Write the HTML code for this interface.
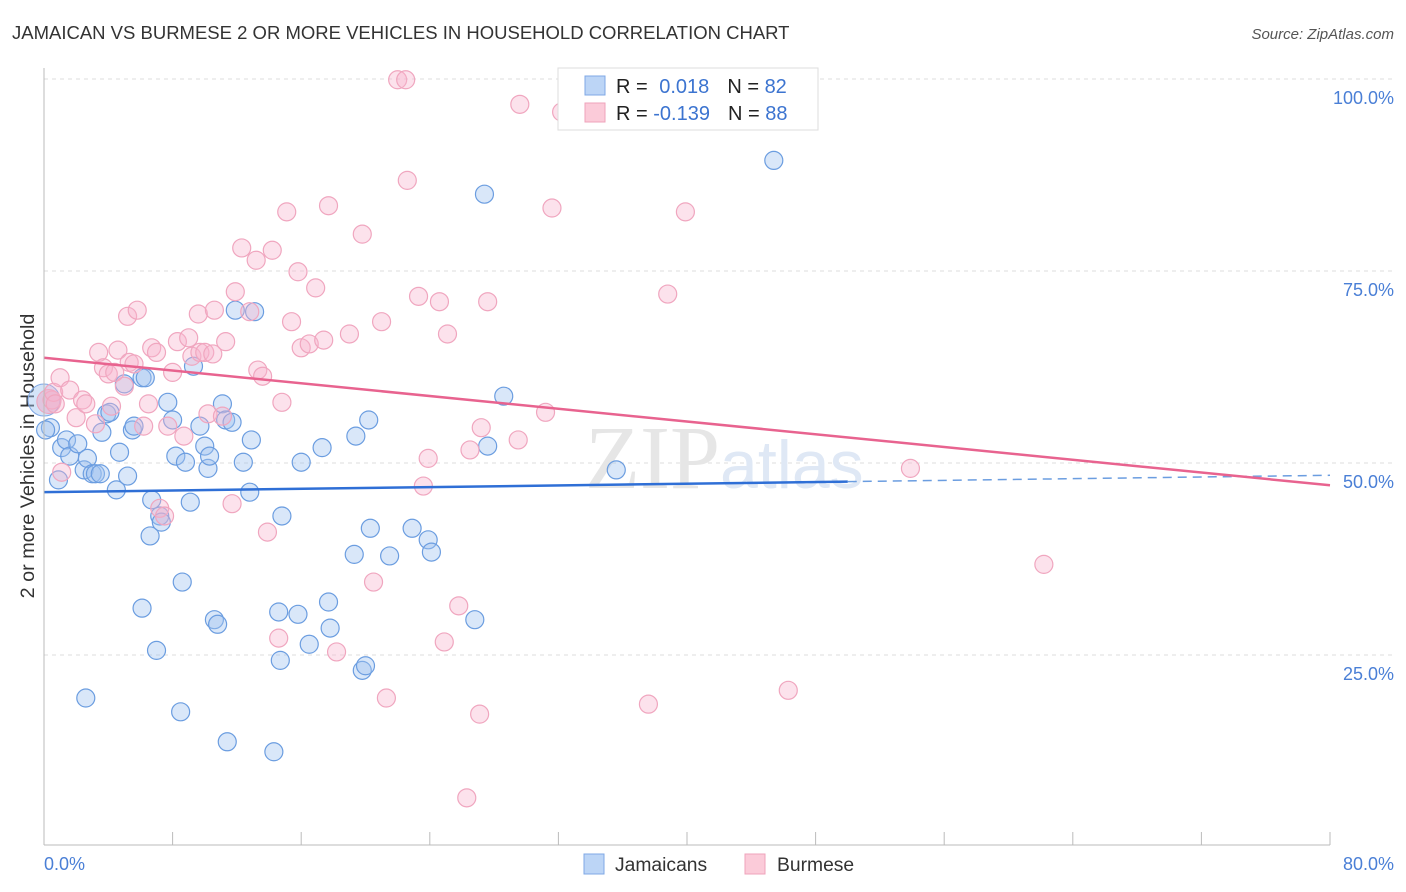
<!DOCTYPE html>
<html><head><meta charset="utf-8"><style>
body{margin:0;background:#fff;font-family:"Liberation Sans",sans-serif}
svg{display:block}
</style></head><body>
<svg width="1406" height="892" id="chart">
<text x="12" y="39" font-size="18.5" fill="#333">JAMAICAN VS BURMESE 2 OR MORE VEHICLES IN HOUSEHOLD CORRELATION CHART</text>
<text x="1394" y="39" font-size="15" fill="#555" font-style="italic" text-anchor="end">Source: ZipAtlas.com</text>
<text x="34" y="456" font-size="19.8" fill="#333" text-anchor="middle" transform="rotate(-90 34 456)">2 or more Vehicles in Household</text>
<g id="grid"></g>
<text x="720" y="488" font-size="90" fill="#e6e6e6" font-family="Liberation Serif,serif" text-anchor="end">ZIP</text>
<text x="720" y="488" font-size="68" fill="#dfe8f5">atlas</text>
<g id="points"></g>
<g id="lines"></g>
<line x1="44" y1="68" x2="44" y2="845" stroke="#bbb"/>
<line x1="44" y1="845" x2="1330" y2="845" stroke="#bbb"/>
<text x="44" y="870" font-size="18" fill="#4a7fd6">0.0%</text>
<text x="1394" y="870" font-size="18" fill="#4a7fd6" text-anchor="end">80.0%</text>
<g>
<rect x="584" y="854" width="20" height="20" fill="#bcd5f6" stroke="#7fa8e6"/>
<text x="615" y="871" font-size="19.3" fill="#333">Jamaicans</text>
<rect x="745" y="854" width="20" height="20" fill="#fbcbd9" stroke="#efa3bb"/>
<text x="777" y="871" font-size="19.3" fill="#333">Burmese</text>
</g>
<g>
<rect x="558" y="68" width="260" height="62" fill="#fff" stroke="#ddd"/>
<rect x="585" y="76" width="20" height="19" fill="#bcd5f6" stroke="#7fa8e6"/>
<rect x="585" y="103" width="20" height="19" fill="#fbcbd9" stroke="#efa3bb"/>
<text x="616" y="93" font-size="20" fill="#222">R = <tspan fill="#3c74d0" dx="6">0.018</tspan><tspan fill="#222" dx="18">N = </tspan><tspan fill="#3c74d0">82</tspan></text>
<text x="616" y="120" font-size="20" fill="#222">R = <tspan fill="#3c74d0">-0.139</tspan><tspan fill="#222" dx="18">N = </tspan><tspan fill="#3c74d0">88</tspan></text>
</g>
</svg>
<script>
const yTicks=[25,50,75,100];
const yTickLabels=["25.0%","50.0%","75.0%","100.0%"];
const xTicks=[0,8,16,24,32,40,48,56,64,72,80];
const blueX=[0.4,0.9,1.1,1.4,1.6,2.1,2.5,2.7,3.0,3.2,3.5,3.6,3.9,4.1,4.5,4.7,5.0,5.2,5.5,5.6,6.1,6.3,6.7,6.6,6.1,7.0,2.6,7.2,7.3,7.7,8.0,8.2,8.6,8.5,8.8,9.1,9.3,9.7,10.0,10.2,10.3,10.6,10.8,11.1,11.3,11.7,11.9,11.4,12.4,12.8,13.1,12.9,14.3,14.8,14.6,14.7,15.8,16.0,16.5,17.3,17.7,17.8,19.4,19.3,19.8,20.0,20.2,20.3,21.5,22.9,23.9,24.1,26.8,27.4,27.6,28.6,35.6,45.4,0.1];
const blueY=[54.6,47.8,52.0,53.0,50.9,52.5,49.1,50.6,48.6,48.6,48.6,54.0,56.4,56.6,46.5,51.4,60.3,48.3,54.3,54.8,61.1,61.1,45.2,40.5,31.1,25.6,19.4,43.1,42.3,57.9,55.6,50.9,34.5,17.6,50.1,44.9,62.6,54.8,52.2,49.3,50.9,29.6,29.0,57.7,55.6,55.3,69.9,13.7,50.1,46.2,69.7,53.0,12.4,43.1,30.6,24.3,30.3,50.1,26.4,52.0,31.9,28.5,53.5,38.1,23.0,23.6,55.6,41.5,37.9,41.5,40.0,38.4,29.6,85.0,52.2,58.7,49.1,89.4,54.3];
const pinkX=[0.5,0.6,0.7,1.0,1.1,1.6,2.0,2.4,2.6,3.2,3.4,3.7,4.0,4.2,4.4,4.6,5.0,5.2,5.3,5.6,5.8,6.2,6.5,6.7,7.0,7.2,7.5,7.7,8.0,8.3,8.7,9.0,9.2,9.6,9.7,10.0,10.2,10.5,10.6,11.1,11.3,11.7,11.9,12.3,12.8,13.2,13.3,13.6,13.9,14.2,14.6,14.8,15.1,15.4,15.8,16.0,16.5,16.9,17.4,17.7,18.2,19.0,19.8,20.5,21.0,21.3,22.0,22.5,22.6,23.3,23.6,23.9,24.6,24.9,25.1,25.8,26.3,26.5,27.1,27.2,27.6,29.5,29.6,31.2,31.6,32.2,37.6,38.8,39.9,46.3,53.9,62.2];
const pinkY=[58.2,59.2,57.7,61.1,48.8,59.5,55.9,58.2,57.7,55.1,64.4,62.4,61.6,57.4,61.8,64.7,60.0,69.1,63.1,62.9,69.9,54.8,57.7,65.0,64.4,44.1,43.1,54.8,61.8,65.8,53.5,66.3,63.9,69.4,64.4,64.4,56.4,64.2,69.9,56.1,65.8,44.7,72.3,78.0,69.7,76.4,62.1,61.3,41.0,77.7,27.2,57.9,82.7,68.4,74.9,65.0,65.5,72.8,66.0,83.5,25.4,66.8,79.8,34.5,68.4,19.4,99.9,99.9,86.8,71.7,47.0,50.6,71.0,26.7,66.8,31.4,6.4,51.7,17.3,54.6,71.0,53.0,96.7,56.6,83.2,95.7,18.6,72.0,82.7,20.4,49.3,36.8];
const blueTrend=[46.2,48.4]; const pinkTrend=[63.7,47.1];
const NS="http://www.w3.org/2000/svg";
const sx=v=>44+v/80*1286, sy=v=>847-v/100*768;
function mk(t,a,p){const e=document.createElementNS(NS,t);for(const k in a)e.setAttribute(k,a[k]);p.appendChild(e);return e;}
const grid=document.getElementById('grid');
yTicks.forEach((t,i)=>{
 const l=mk('line',{x1:44,x2:1394,y1:sy(t),y2:sy(t),stroke:'#ddd','stroke-dasharray':'4,4'},grid);
 
 
 const tx=mk('text',{x:1394,y:sy(t)+25,'font-size':18,fill:'#4a7fd6','text-anchor':'end'},grid);
 tx.textContent=yTickLabels[i];
 
 
});
xTicks.forEach(t=>{
 const l=mk('line',{x1:sx(t),x2:sx(t),y1:832,y2:845,stroke:'#bbb'},grid);
 
 
});
const pts=document.getElementById('points');
const big1=mk('circle',{cx:sx(0),cy:sy(58.2),r:16,fill:'rgba(160,195,240,0.45)',stroke:'#7fa8e6'},pts);


const big2=mk('circle',{cx:sx(0.3),cy:sy(58.0),r:12,fill:'rgba(240,160,190,0.45)',stroke:'#efa3bb'},pts);


blueX.forEach((x,i)=>{
 const c=mk('circle',{cx:sx(x),cy:sy(blueY[i]),r:9,fill:'rgba(160,195,240,0.4)',stroke:'#6b9de0','stroke-width':1.2},pts);
 
 
});
pinkX.forEach((x,i)=>{
 const c=mk('circle',{cx:sx(x),cy:sy(pinkY[i]),r:9,fill:'rgba(248,180,204,0.38)',stroke:'#f0a6bf','stroke-width':1.2},pts);
 
 
});
const ln=document.getElementById('lines');
const bEnd=50;
const bl=mk('line',{x1:sx(0),y1:sy(blueTrend[0]),x2:sx(bEnd),y2:sy(blueTrend[0]+(blueTrend[1]-blueTrend[0])*bEnd/80),stroke:'#2f6fd6','stroke-width':2.5},ln);


const bd=mk('line',{x1:sx(bEnd),y1:sy(blueTrend[0]+(blueTrend[1]-blueTrend[0])*bEnd/80),x2:sx(80),y2:sy(blueTrend[1]),stroke:'#6b9de0','stroke-width':1.5,'stroke-dasharray':'9,6'},ln);


const pl=mk('line',{x1:sx(0),y1:sy(pinkTrend[0]),x2:sx(80),y2:sy(pinkTrend[1]),stroke:'#e8638f','stroke-width':2.5},ln);


</script>
</body></html>
